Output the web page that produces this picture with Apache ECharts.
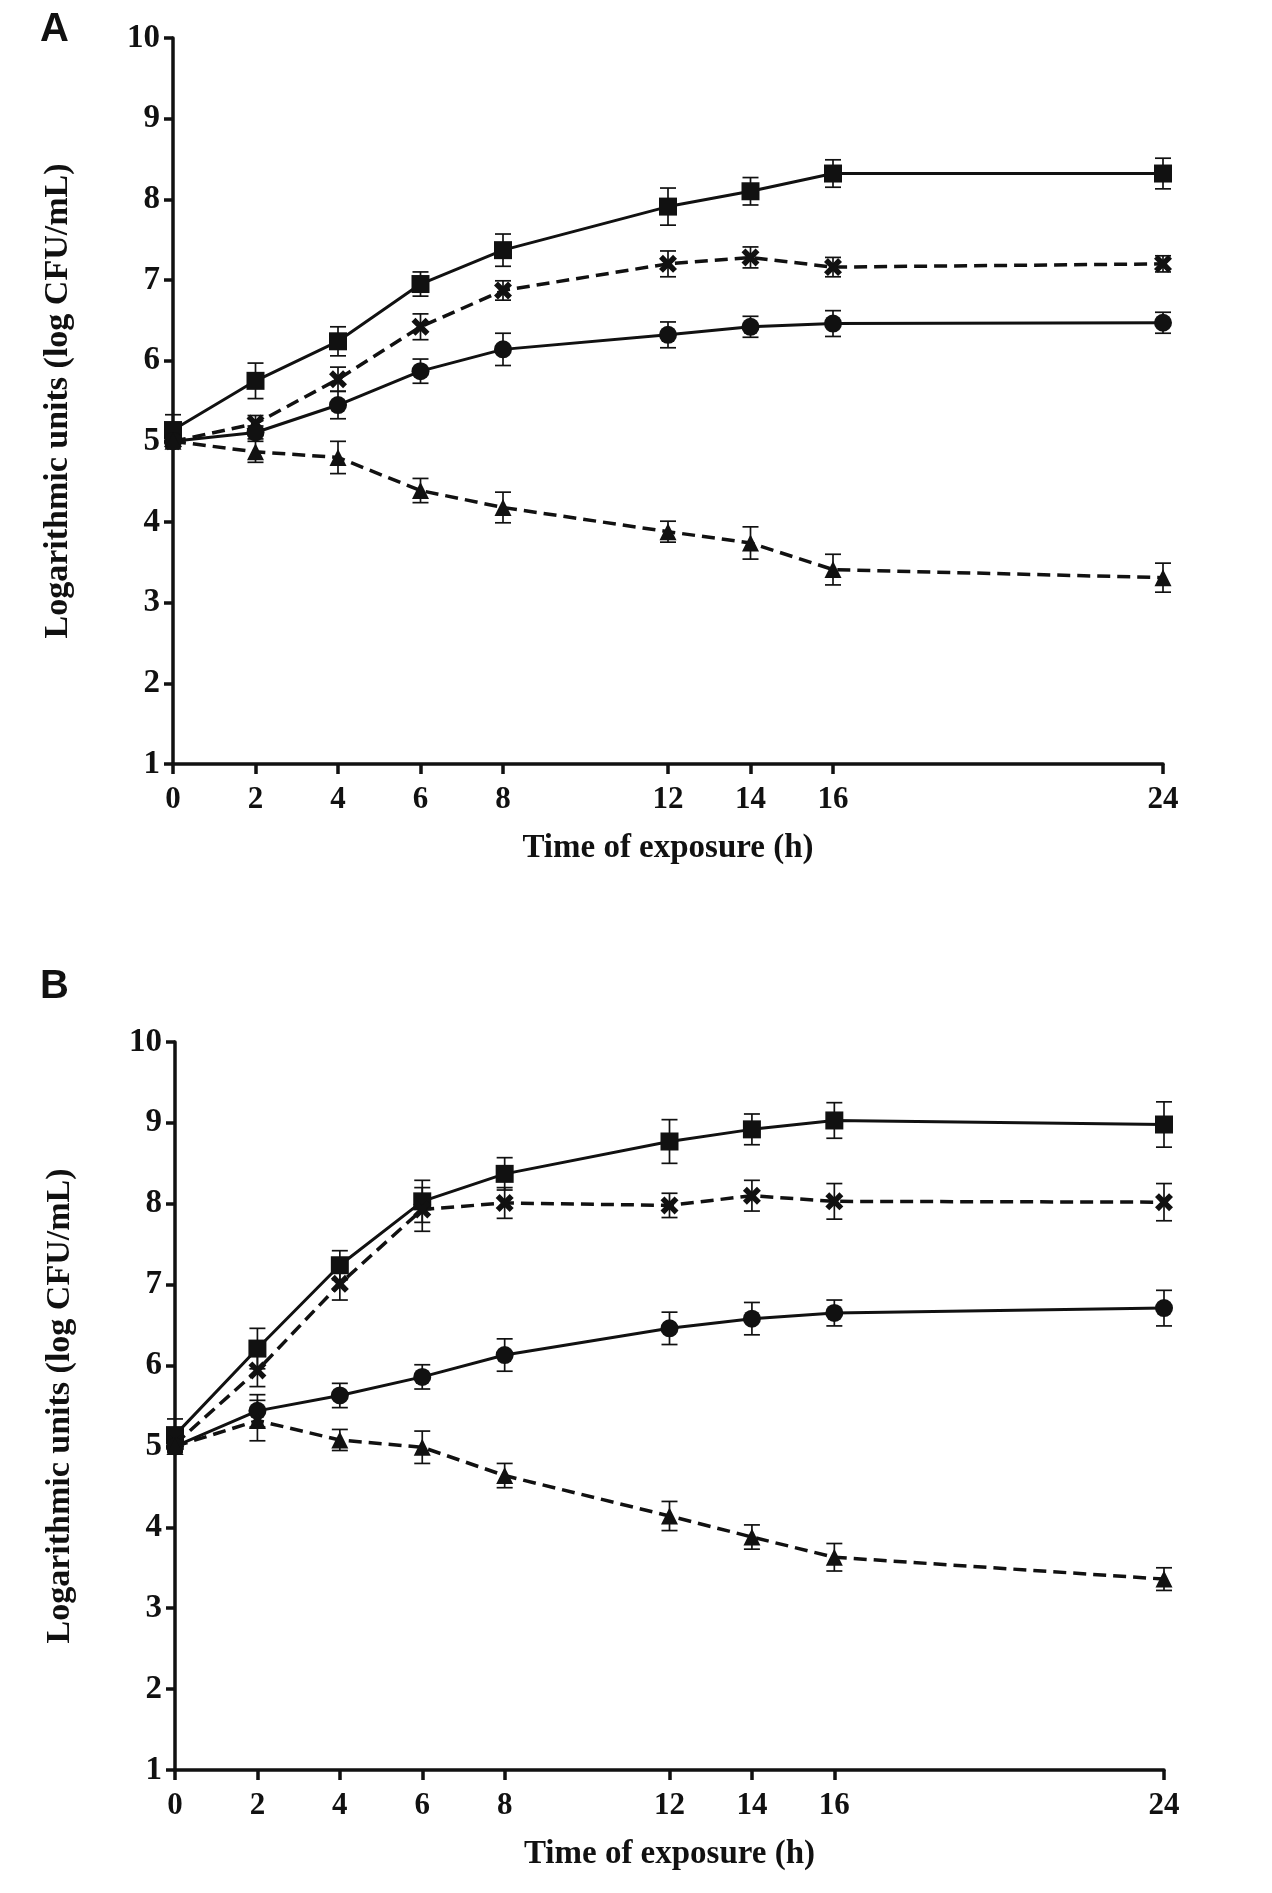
<!DOCTYPE html>
<html lang="en">
<head>
    <meta charset="UTF-8"/>
    <title>Time of exposure</title>
    <script src="https://cdn.jsdelivr.net/npm/echarts@6/dist/echarts.min.js"></script>
    <style>
        * { margin: 0; padding: 0; box-sizing: border-box; }
        body { background: #fff; }
        #chart { width: 1272px; height: 1893px; }
    </style>
</head>
<body>
<div id="chart"></div>
<script>
    // sampling times (h)
    const hours = [0, 2, 4, 6, 8, 12, 14, 16, 24];
    const hourTicks = [0, 2, 4, 6, 8, 12, 14, 16, 24];

    // panel A
    const aSquare = [5.14, 5.75, 6.24, 6.95, 7.37, 7.91, 8.10, 8.32, 8.32];
    const aSquareErr = [0.19, 0.22, 0.18, 0.15, 0.2, 0.23, 0.17, 0.17, 0.19];
    const aCross = [5.0, 5.22, 5.77, 6.42, 6.87, 7.2, 7.28, 7.16, 7.2];
    const aCrossErr = [0.06, 0.1, 0.15, 0.16, 0.12, 0.16, 0.13, 0.12, 0.1];
    const aCircle = [5.0, 5.11, 5.45, 5.87, 6.14, 6.32, 6.42, 6.46, 6.47];
    const aCircleErr = [0.04, 0.08, 0.17, 0.15, 0.2, 0.16, 0.13, 0.16, 0.13];
    const aTriangle = [5.0, 4.87, 4.8, 4.39, 4.18, 3.88, 3.74, 3.41, 3.31];
    const aTriangleErr = [0.04, 0.13, 0.2, 0.15, 0.19, 0.13, 0.2, 0.19, 0.18];

    // panel B
    const bSquare = [5.14, 6.21, 7.24, 8.03, 8.37, 8.77, 8.92, 9.03, 8.98];
    const bSquareErr = [0.2, 0.25, 0.18, 0.26, 0.2, 0.27, 0.19, 0.22, 0.28];
    const bCross = [5.03, 5.94, 7.01, 7.93, 8.01, 7.98, 8.10, 8.03, 8.02];
    const bCrossErr = [0.1, 0.2, 0.2, 0.27, 0.19, 0.15, 0.19, 0.22, 0.23];
    const bCircle = [5.0, 5.44, 5.63, 5.86, 6.13, 6.46, 6.58, 6.65, 6.71];
    const bCircleErr = [0.05, 0.2, 0.15, 0.15, 0.2, 0.2, 0.2, 0.16, 0.22];
    const bTriangle = [5.0, 5.32, 5.08, 4.99, 4.64, 4.14, 3.88, 3.63, 3.36];
    const bTriangleErr = [0.05, 0.25, 0.13, 0.2, 0.15, 0.18, 0.15, 0.17, 0.14];

    const serif = 'Liberation Serif';
    const ink = '#111';
    // bold "x" marker
    const crossPath = 'path://M0,3.5 L3.5,0 L8,4.5 L12.5,0 L16,3.5 L11.5,8 L16,12.5 L12.5,16 L8,11.5 L3.5,16 L0,12.5 L4.5,8 Z';

    function pairs(vals) {
        return hours.map((h, i) => [h, vals[i]]);
    }

    function errData(vals, errs) {
        return hours.map((h, i) => [h, vals[i] - errs[i], vals[i] + errs[i]]);
    }

    function errSeries(idx, vals, errs) {
        return {
            type: 'custom',
            xAxisIndex: idx,
            yAxisIndex: idx,
            z: 1,
            silent: true,
            data: errData(vals, errs),
            renderItem: function (params, api) {
                const lo = api.coord([api.value(0), api.value(1)]);
                const hi = api.coord([api.value(0), api.value(2)]);
                const w = 8;
                const st = {stroke: ink, lineWidth: 1.7};
                return {
                    type: 'group',
                    children: [
                        {type: 'line', shape: {x1: lo[0], y1: lo[1], x2: hi[0], y2: hi[1]}, style: st},
                        {type: 'line', shape: {x1: lo[0] - w, y1: lo[1], x2: lo[0] + w, y2: lo[1]}, style: st},
                        {type: 'line', shape: {x1: hi[0] - w, y1: hi[1], x2: hi[0] + w, y2: hi[1]}, style: st}
                    ]
                };
            }
        };
    }

    function lineSeries(idx, vals, symbol, size, dashed) {
        return {
            type: 'line',
            xAxisIndex: idx,
            yAxisIndex: idx,
            z: 3,
            data: pairs(vals),
            symbol: symbol,
            symbolSize: size,
            showAllSymbol: true,
            lineStyle: {color: ink, width: dashed ? 3.5 : 3, type: dashed ? [13, 7] : 'solid'},
            itemStyle: {color: ink, borderWidth: 0},
            animation: false
        };
    }

    function panelSeries(idx, sq, sqE, cr, crE, ci, ciE, tr, trE) {
        return [
            errSeries(idx, sq, sqE),
            errSeries(idx, cr, crE),
            errSeries(idx, ci, ciE),
            errSeries(idx, tr, trE),
            lineSeries(idx, sq, 'rect', 18, false),
            lineSeries(idx, cr, crossPath, 18, true),
            lineSeries(idx, ci, 'circle', 18, false),
            lineSeries(idx, tr, 'triangle', 17, true)
        ];
    }

    function xAxisOf(idx) {
        return {
            type: 'value', gridIndex: idx, min: 0, max: 24,
            name: 'Time of exposure (h)', nameLocation: 'middle', nameGap: 68,
            nameTextStyle: {fontFamily: serif, fontWeight: 'bold', fontSize: 33, color: ink},
            axisLine: {lineStyle: {color: ink, width: 3.5}},
            axisTick: {customValues: hourTicks, length: 10, lineStyle: {color: ink, width: 3.5}},
            axisLabel: {customValues: hourTicks, margin: 20, fontFamily: serif, fontWeight: 'bold', fontSize: 31, color: ink},
            splitLine: {show: false}
        };
    }

    function yAxisOf(idx) {
        return {
            type: 'value', gridIndex: idx, min: 1, max: 10, interval: 1,
            name: 'Logarithmic units (log CFU/mL)', nameLocation: 'middle', nameGap: 98, nameRotate: 90,
            nameTextStyle: {fontFamily: serif, fontWeight: 'bold', fontSize: 34, color: ink},
            axisLine: {lineStyle: {color: ink, width: 3.5}},
            axisTick: {length: 9, lineStyle: {color: ink, width: 3.5}},
            axisLabel: {margin: 13, fontFamily: serif, fontWeight: 'bold', fontSize: 33, color: ink},
            splitLine: {show: false}
        };
    }

    const chart = echarts.init(document.getElementById('chart'), null, {renderer: 'canvas'});
    chart.setOption({
        backgroundColor: '#fff',
        animation: false,
        grid: [
            {left: 173, top: 38, width: 990, height: 726},
            {left: 175, top: 1042, width: 989, height: 728}
        ],
        xAxis: [xAxisOf(0), xAxisOf(1)],
        yAxis: [yAxisOf(0), yAxisOf(1)],
        graphic: [
            {type: 'text', left: 40, top: 10, style: {text: 'A', font: 'bold 40px "Liberation Sans"', fill: ink}},
            {type: 'text', left: 40, top: 967, style: {text: 'B', font: 'bold 40px "Liberation Sans"', fill: ink}}
        ],
        series: [].concat(
            panelSeries(0, aSquare, aSquareErr, aCross, aCrossErr, aCircle, aCircleErr, aTriangle, aTriangleErr),
            panelSeries(1, bSquare, bSquareErr, bCross, bCrossErr, bCircle, bCircleErr, bTriangle, bTriangleErr)
        )
    });
</script>
</body>
</html>
